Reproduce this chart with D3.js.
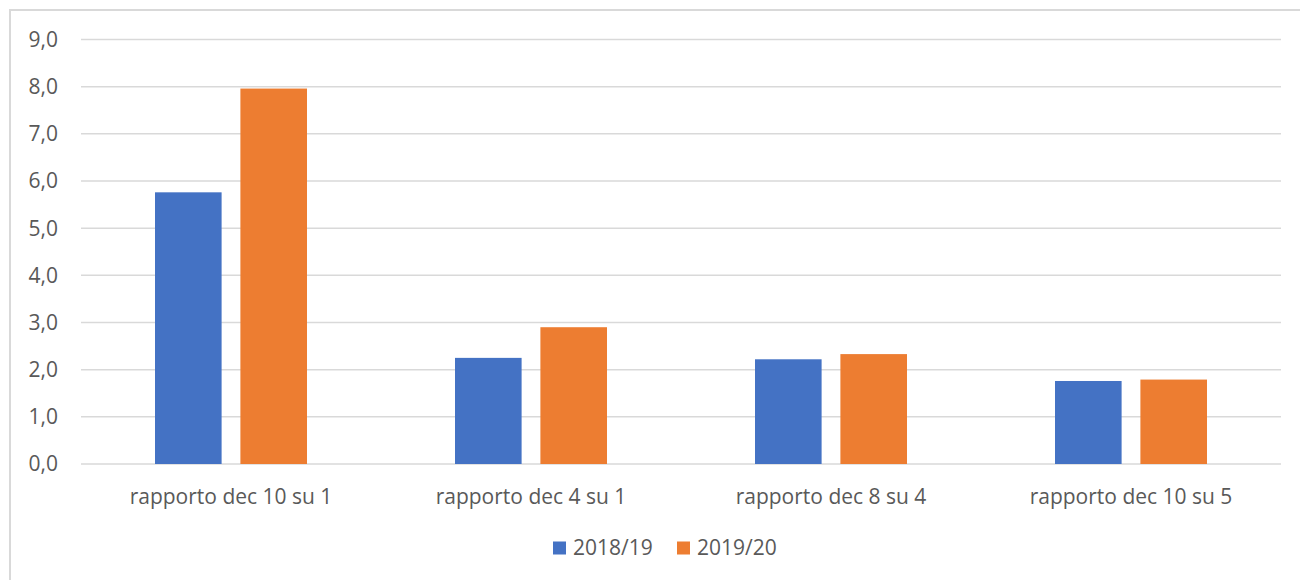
<!DOCTYPE html>
<html><head><meta charset="utf-8">
<script src="https://cdn.jsdelivr.net/npm/d3@7"></script>
<style>body{margin:0;background:#fff}svg{display:block}text{font-family:"Open Sans",Lato,sans-serif;fill:#595959}</style>
</head><body><svg id="c" width="1300" height="580"></svg>
<script>
const categories = ["rapporto dec 10 su 1","rapporto dec 4 su 1","rapporto dec 8 su 4","rapporto dec 10 su 5"];
const seriesNames = ["2018/19","2019/20"];
const values2018_19 = [5.76, 2.25, 2.22, 1.76];
const values2019_20 = [7.96, 2.90, 2.33, 1.79];
const yTicks = [0,1,2,3,4,5,6,7,8,9];
const colors = ["#4472C4","#ED7D31"];

(function(){
const svg = d3.select("#c");
svg.append("path").attr("d","M10,1000V10H1300").attr("fill","none").attr("stroke","#d9d9d9").attr("stroke-width",2);

const pl=81, pr=1281, pt=39.5, pb=464;
const y = d3.scaleLinear().domain([0,9]).range([pb,pt]);
const x0 = d3.scaleBand().domain(categories).range([pl,pr]).padding(0);
const groupW = 152;
const x1 = d3.scaleBand().domain(seriesNames).range([0,groupW]).paddingInner(0.22).paddingOuter(0);

svg.append("g").selectAll("line").data(yTicks).join("line")
  .attr("x1",pl).attr("x2",pr).attr("y1",d=>y(d)).attr("y2",d=>y(d))
  .attr("stroke","#d9d9d9").attr("stroke-width",1.5);

const fmt = d=>d.toFixed(1).replace(".",",");
svg.append("g").selectAll("text").data(yTicks).join("text")
  .attr("x",58).attr("y",d=>y(d)).attr("dy","0.35em").attr("text-anchor","end")
  .attr("font-size",21).text(fmt);

const data = [values2018_19, values2019_20];
const g = svg.append("g").selectAll("g").data(categories).join("g")
  .attr("transform",d=>`translate(${x0(d)+(x0.bandwidth()-groupW)/2},0)`);
g.selectAll("rect").data((d,i)=>seriesNames.map((s,j)=>({s,v:data[j][i],c:colors[j]}))).join("rect")
  .attr("x",d=>x1(d.s)).attr("width",x1.bandwidth())
  .attr("y",d=>y(d.v)).attr("height",d=>y(0)-y(d.v)).attr("fill",d=>d.c);

svg.append("g").selectAll("text").data(categories).join("text")
  .attr("x",d=>x0(d)+x0.bandwidth()/2).attr("y",497).attr("dy","0.35em")
  .attr("text-anchor","middle").attr("font-size",21).text(d=>d);

const legX = [553, 677];
const lg = svg.append("g").selectAll("g").data(seriesNames).join("g")
  .attr("transform",(d,i)=>`translate(${legX[i]},548)`);
lg.append("rect").attr("x",0).attr("y",-6.5).attr("width",13).attr("height",13).attr("fill",(d,i)=>colors[i]);
lg.append("text").attr("x",20).attr("dy","0.35em").attr("font-size",21).text(d=>d);
})();
</script></body></html>
